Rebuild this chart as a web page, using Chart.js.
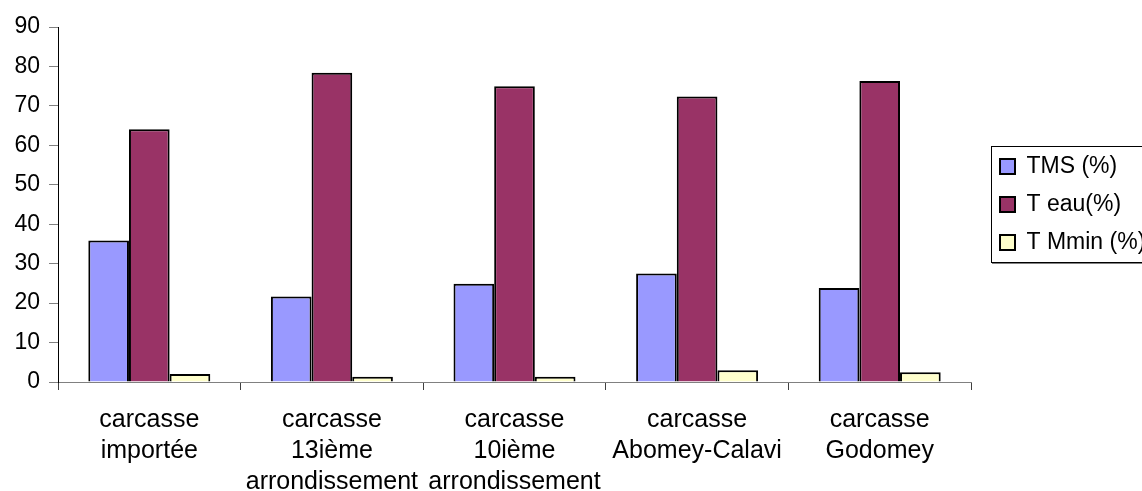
<!DOCTYPE html>
<html lang="fr">
<head>
<meta charset="utf-8">
<title>Composition des carcasses</title>
<script src="https://cdn.jsdelivr.net/npm/chart.js@4/dist/chart.umd.min.js"></script>
<style>
  html, body { margin: 0; padding: 0; background: #fff; overflow: hidden; }
  #wrap { position: relative; width: 1150px; height: 491px; }
</style>
</head>
<body>
<div id="wrap"><canvas id="chart"></canvas></div>
<script>
// Categories (multi-line axis labels)
const categories = [
  ['carcasse', 'importée'],
  ['carcasse', '13ième', 'arrondissement'],
  ['carcasse', '10ième', 'arrondissement'],
  ['carcasse', 'Abomey-Calavi'],
  ['carcasse', 'Godomey']
];

// Series values (%)
const tmsValues   = [35.9, 21.7, 24.9, 27.5, 23.8];
const eauValues   = [64.1, 78.4, 75.0, 72.4, 76.3];
const mminValues  = [2.0, 1.3, 1.3, 3.0, 2.5];

// Series names
const seriesNames = ['TMS (%)', 'T eau(%)', 'T Mmin (%)'];

// Y axis range
const yMin = 0, yMax = 90, yStep = 10;

const FONT = "'Liberation Sans', Arial, sans-serif";

// Framed legend, like a classic spreadsheet chart
const legendFrame = {
  id: 'legendFrame',
  afterDraw(chart) {
    const lg = chart.legend;
    if (!lg || !lg.legendHitBoxes || !lg.legendHitBoxes.length) return;
    const boxes = lg.legendHitBoxes;
    const first = boxes[0], last = boxes[boxes.length - 1];
    const left = first.left - 9;
    const top = first.top - 9;
    const bottom = last.top + last.height + 8;
    const ctx = chart.ctx;
    ctx.save();
    ctx.strokeStyle = '#000';
    ctx.lineWidth = 1;
    ctx.strokeRect(Math.round(left) + 0.5, Math.round(top) + 0.5,
                   chart.width + 20 - left, Math.round(bottom - top));
    ctx.strokeStyle = '#808080';
    ctx.beginPath();
    ctx.moveTo(Math.round(left) + 1, Math.round(bottom) + 1.5);
    ctx.lineTo(chart.width + 20, Math.round(bottom) + 1.5);
    ctx.stroke();
    ctx.restore();
  }
};

new Chart(document.getElementById('chart'), {
  type: 'bar',
  data: {
    labels: categories,
    datasets: [
      { label: seriesNames[0], data: tmsValues,  backgroundColor: '#9999FF' },
      { label: seriesNames[1], data: eauValues,  backgroundColor: '#993366' },
      { label: seriesNames[2], data: mminValues, backgroundColor: '#FFFFCC' }
    ]
  },
  options: {
    responsive: true,
    maintainAspectRatio: false,
    animation: false,
    datasets: {
      bar: {
        borderColor: '#000',
        borderWidth: 2,
        categoryPercentage: 0.668,
        barPercentage: 1.0
      }
    },
    layout: { padding: { top: 27, left: 0, right: 0, bottom: 0 } },
    plugins: {
      tooltip: { enabled: false },
      legend: {
        position: 'right',
        fullSize: false,
        align: 'center',
        maxWidth: 165,
        labels: {
          color: '#000',
          font: { family: FONT, size: 23 },
          boxWidth: 15,
          boxHeight: 15,
          padding: 15
        }
      }
    },
    scales: {
      x: {
        offset: true,
        grid: {
          offset: true,
          drawOnChartArea: false,
          drawTicks: true,
          tickLength: 8,
          color: '#404040'
        },
        border: { display: true, color: '#808080', width: 1 },
        ticks: {
          color: '#000',
          font: { family: FONT, size: 25, lineHeight: 1.25 },
          padding: 14,
          maxRotation: 0,
          autoSkip: false
        },
        afterFit(scale) { scale.height = 109; }
      },
      y: {
        min: yMin,
        max: yMax,
        grid: {
          drawOnChartArea: false,
          drawTicks: true,
          tickLength: 9,
          color: '#808080'
        },
        border: { display: true, color: '#000', width: 1 },
        ticks: {
          stepSize: yStep,
          color: '#000',
          font: { family: FONT, size: 23 },
          padding: 9
        },
        afterFit(scale) { scale.width = 58; }
      },
      gap: {
        position: 'right',
        display: true,
        grid: { display: false },
        border: { display: false },
        ticks: { display: false },
        afterFit(scale) { scale.width = 14; }
      }
    }
  },
  plugins: [legendFrame]
});
</script>
</body>
</html>
